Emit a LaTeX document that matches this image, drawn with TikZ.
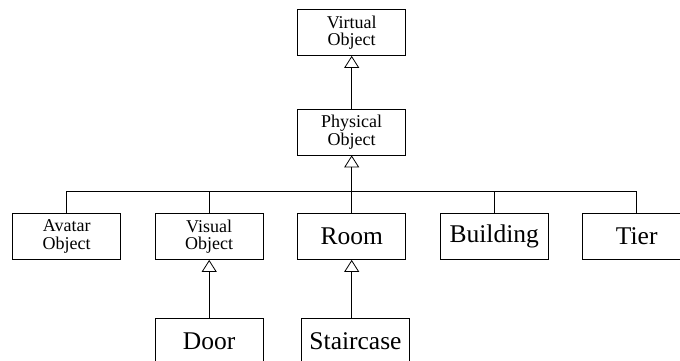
\documentclass[tikz,border=0pt]{standalone}
\usepackage{fontspec}
\setmainfont{Liberation Serif}
\usetikzlibrary{arrows.meta}

\begin{document}
\begin{tikzpicture}[x=1pt,y=-1pt,line width=.8pt,
    cls/.style={draw,minimum width=108pt,minimum height=46pt,inner sep=0pt,
      align=center,font=\fontsize{18}{17.5}\selectfont},
    bigcls/.style={cls,font=\fontsize{25.5}{28}\selectfont},
    isa/.style={-{Triangle[open,width=15pt,length=12pt]}}]
    \useasboundingbox (0,0) rectangle (680,361);
    \clip (0,0) rectangle (680,361);
    % top of the hierarchy
    \node[cls] (virt) at (351.7,32.5) {Virtual\\Object};
    \node[cls] (phys) at (351.7,132) {Physical\\Object};
    % second row
    \node[cls] (avatar) at (66.7,236.5) {Avatar\\Object};
    \node[cls] (visual) at (209.2,236.5) {Visual\\Object};
    \node[bigcls] (room) at (351.7,236.5) {Room};
    \node[bigcls] (building) at (494.2,236.5) {Building};
    \node[bigcls] (tier) at (636.7,236.5) {Tier};
    % bottom row
    \node[bigcls] (door) at (209.2,341.5) {Door};
    \node[bigcls] (stair) at (355.5,341.5) {Staircase};
    \coordinate (bus) at (351.7,191);

    \draw[isa] (phys) -- (virt);
    \draw[isa] (bus) -- (phys);
    \draw (avatar.north) |- (tier.north |- bus) -- (tier.north);
    \draw (visual.north) -- (visual.north |- bus);
    \draw (room.north) -- (bus);
    \draw (building.north) -- (building.north |- bus);
    \draw[isa] (door.north) -- (visual.south);
    \draw[isa] (stair.north -| room.south) -- (room.south);
  \end{tikzpicture}
\end{document}
